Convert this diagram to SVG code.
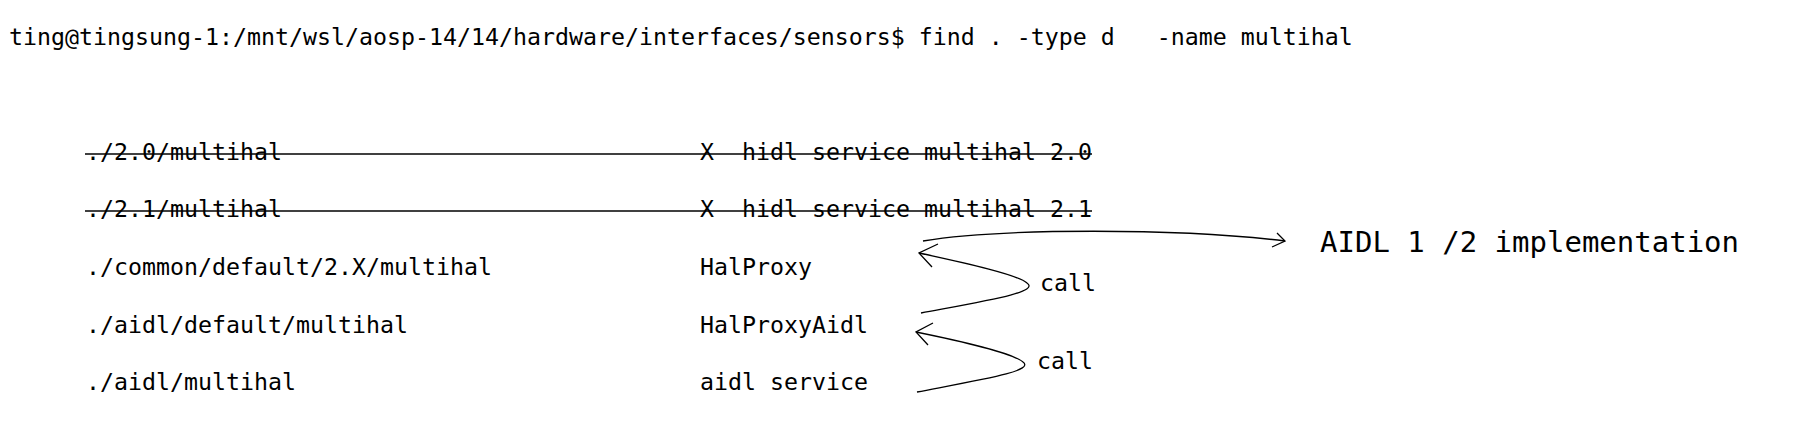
<svg xmlns="http://www.w3.org/2000/svg" width="1808" height="438" viewBox="0 0 1808 438">
  <style>
    text { font-family: "DejaVu Sans Mono", "Liberation Mono", monospace; fill: #000; white-space: pre; }
    .t { font-size: 23.25px; }
    .big { font-size: 29px; }
    .strike { stroke: #000; stroke-width: 1.4; fill: none; }
    .conn { stroke: #000; stroke-width: 1.3; fill: none; }
  </style>
  <rect width="1808" height="438" fill="#fff"/>
  <g id="header">
    <text class="t" x="9" y="45" xml:space="preserve">ting@tingsung-1:/mnt/wsl/aosp-14/14/hardware/interfaces/sensors$ find . -type d   -name multihal</text>
  </g>
  <g id="row-2-0">
    <text class="t" x="86" y="160">./2.0/multihal</text>
    <text class="t" x="700" y="160" xml:space="preserve">X  hidl service multihal 2.0</text>
    <line class="strike" x1="85" y1="154" x2="1092" y2="154"/>
  </g>
  <g id="row-2-1">
    <text class="t" x="86" y="217">./2.1/multihal</text>
    <text class="t" x="700" y="217" xml:space="preserve">X  hidl service multihal 2.1</text>
    <line class="strike" x1="85" y1="211" x2="1092" y2="211"/>
  </g>
  <g id="row-common">
    <text class="t" x="86" y="275">./common/default/2.X/multihal</text>
    <text class="t" x="700" y="275">HalProxy</text>
  </g>
  <g id="row-aidl-default">
    <text class="t" x="86" y="333">./aidl/default/multihal</text>
    <text class="t" x="700" y="333">HalProxyAidl</text>
  </g>
  <g id="row-aidl">
    <text class="t" x="86" y="390">./aidl/multihal</text>
    <text class="t" x="700" y="390">aidl service</text>
  </g>
  <g id="aidl-impl">
    <text class="big" x="1320" y="252">AIDL 1 /2 implementation</text>
  </g>
  <g id="call-labels">
    <text class="t" x="1040" y="291">call</text>
    <text class="t" x="1037" y="369">call</text>
  </g>
  <g id="connectors">
    <path class="conn" d="M923,241 C1000,228 1180,228 1285,241"/>
    <path class="conn" d="M1277,233 L1285,241 L1272,247"/>
    <path class="conn" d="M921,313 C990,300 1040,292 1027,283 C1018,275 970,264 919,253"/>
    <path class="conn" d="M938,244 L919,253 L932,267"/>
    <path class="conn" d="M917,392 C985,379 1035,371 1023,362 C1014,354 965,342 916,332"/>
    <path class="conn" d="M933,323 L916,332 L928,345"/>
  </g>
</svg>
